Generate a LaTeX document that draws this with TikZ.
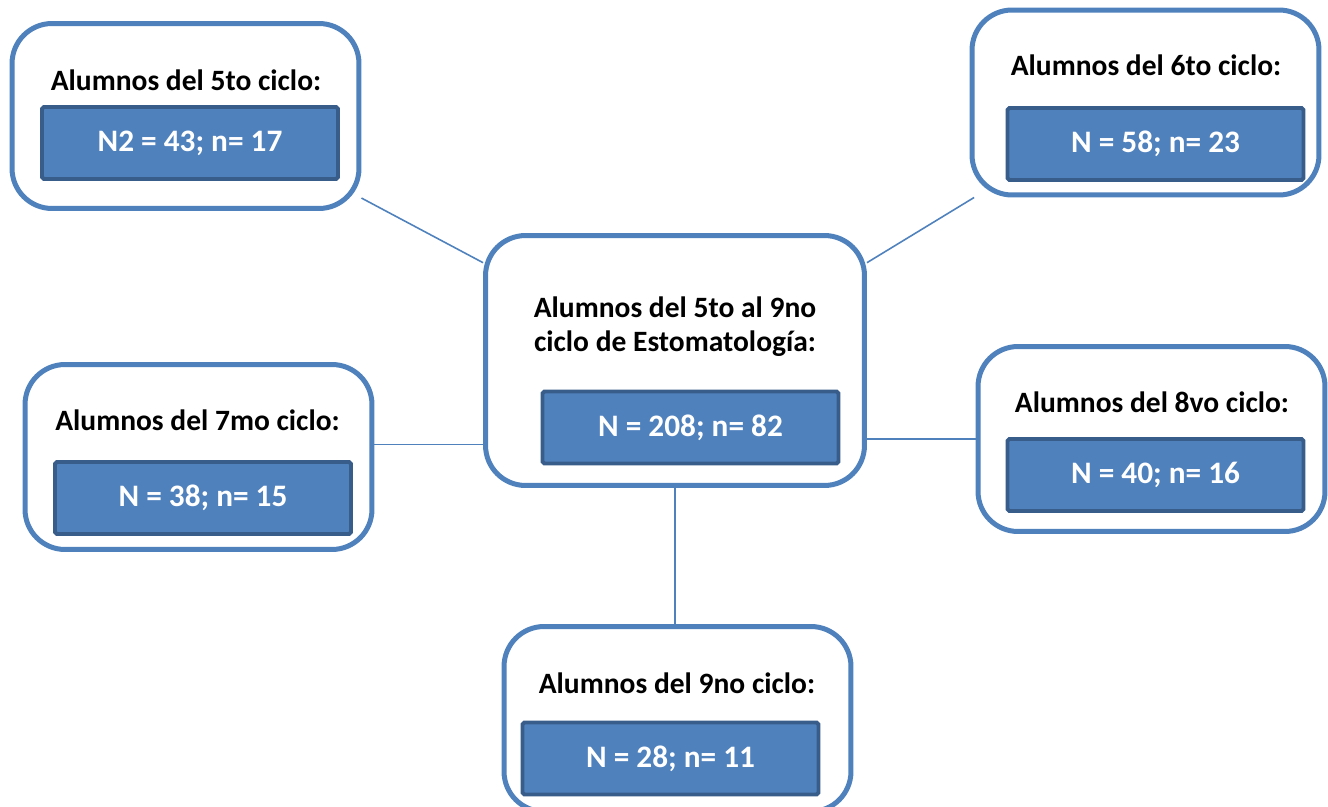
\documentclass[tikz,border=0pt]{standalone}
\usepackage{fontspec}
\setmainfont{Carlito}
\usepackage{tikz}
\definecolor{ciclo}{HTML}{4F81BD}
\definecolor{cicloborde}{HTML}{385D8A}
\tikzset{
      grupo/.style={draw=ciclo, fill=white, line width=2.85pt, rounded corners=0.8cm,
            minimum width=6.94cm, minimum height=3.70cm, inner sep=0pt},
      total/.style={grupo, minimum width=7.58cm, minimum height=5.0cm},
      titulo/.style={anchor=base, font=\fontsize{16.8}{19.9}\selectfont\bfseries, align=center, inner sep=0pt},
      valor/.style={draw=cicloborde, fill=ciclo, line width=2.2pt, rounded corners=1pt,
            minimum width=5.92cm, minimum height=1.44cm, inner sep=0pt,
            text=white, font=\fontsize{17.8}{20}\selectfont\bfseries},
      enlace/.style={draw=ciclo, line width=0.9pt},
}

\begin{document}
\begin{tikzpicture}[x=0.02cm, y=-0.02cm]
        \useasboundingbox (0,0) rectangle (1328,807);

        % Draw the boxes
        \node[total] (tot) at (675,360.5) {};
        \node[grupo] (c5) at (185.5,116) {};
        \node[grupo] (c6) at (1145.5,102.5) {};
        \node[grupo] (c7) at (198.5,457) {};
        \node[grupo] (c8) at (1151.5,439) {};
        \node[grupo] (c9) at (677.5,719) {};

        % Titles
        \node[titulo] (tott) at (675,352) {Alumnos del 5to al 9no\\ciclo de Estomatología:};
        \node[titulo] (c5t) at (186,91) {Alumnos del 5to ciclo:};
        \node[titulo] (c6t) at (1146,76) {Alumnos del 6to ciclo:};
        \node[titulo] (c7t) at (197.5,430) {Alumnos del 7mo ciclo:};
        \node[titulo] (c8t) at (1152,412) {Alumnos del 8vo ciclo:};
        \node[titulo] (c9t) at (677,693) {Alumnos del 9no ciclo:};

        % Values
        \node[valor] (totv) at (690.5,427.5) {N = 208; n= 82};
        \node[valor] (c5v) at (190,143) {N2 = 43; n= 17};
        \node[valor] (c6v) at (1155.5,144) {N = 58; n= 23};
        \node[valor] (c7v) at (203,498) {N = 38; n= 15};
        \node[valor] (c8v) at (1155.5,475) {N = 40; n= 16};
        \node[valor] (c9v) at (670.5,758.5) {N = 28; n= 11};

        % Draw the links
        \draw[enlace] (c5.-25) -- (tot.153);
        \draw[enlace] (c6.209) -- (tot.27);
        \draw[enlace] (c7.4) -- (c7.4 -| tot.west);
        \draw[enlace] (c8.west) -- (c8.west -| tot.east);
        \draw[enlace] (tot.south) -- (tot.south |- c9.north);

    \end{tikzpicture}
\end{document}
